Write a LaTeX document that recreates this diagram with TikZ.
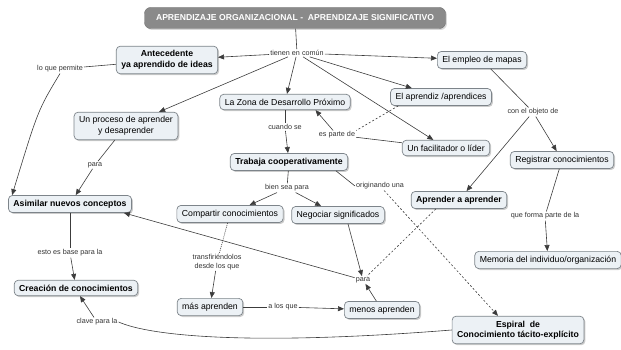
\documentclass[tikz,border=0pt]{standalone}
\usepackage{fontspec}
\setmainfont{Liberation Sans}
\usetikzlibrary{arrows.meta,shadows,calc}
\definecolor{kasten}{RGB}{236,241,245}
\definecolor{rahmen}{RGB}{125,132,138}
\definecolor{titelgrau}{RGB}{138,138,138}
\definecolor{strichgrau}{RGB}{60,60,60}

\begin{document}
\begin{tikzpicture}[x=1pt,y=-1pt,
    konzept/.style={draw=rahmen, fill=kasten, rounded corners=4pt, line width=0.7pt, inner xsep=5pt, inner ysep=4.5pt, align=center, font=\fontsize{8.7}{10.5}\selectfont, drop shadow={shadow xshift=1.4pt, shadow yshift=-1.4pt, fill=black!40}},
    fett/.style={konzept, font=\fontsize{8.7}{10.5}\selectfont\bfseries},
    titel/.style={draw=titelgrau!80!black, fill=titelgrau, text=white, rounded corners=6pt, minimum width=301pt, minimum height=21pt, font=\fontsize{8.6}{10}\selectfont\bfseries, drop shadow={shadow xshift=1.4pt, shadow yshift=-1.4pt, fill=black!30}},
    satz/.style={font=\fontsize{7.2}{8.6}\selectfont, fill=white, inner sep=1pt, align=center, text=black!80},
    linie/.style={draw=strichgrau, line width=0.6pt},
    pfeil/.style={linie, -{Triangle[length=6pt,width=5pt]}},
    strich/.style={linie, dash pattern=on 2pt off 2pt},
  ]
    \useasboundingbox (0,0) rectangle (621,350);

    % Begriffe
    \node[titel] (titel) at (295,18) {APRENDIZAJE ORGANIZACIONAL - \ APRENDIZAJE SIGNIFICATIVO};
    \node[fett] (antec) at (167,60) {Antecedente\\ya aprendido de ideas};
    \node[konzept] (empleo) at (482,60) {El empleo de mapas};
    \node[konzept] (aprendiz) at (441,97) {El aprendiz /aprendices};
    \node[konzept] (zona) at (285,102) {La Zona de Desarrollo Pr\'oximo};
    \node[konzept] (proceso) at (126,126) {Un proceso de aprender\\y desaprender};
    \node[konzept] (facil) at (446,148) {Un facilitador o l\'ider};
    \node[konzept] (registrar) at (562,160) {Registrar conocimientos};
    \node[fett] (trabaja) at (289,162) {Trabaja cooperativamente};
    \node[fett] (asimilar) at (70,204) {Asimilar nuevos conceptos};
    \node[fett] (aprender) at (459,200) {Aprender a aprender};
    \node[konzept] (compartir) at (230,214) {Compartir conocimientos};
    \node[konzept] (negociar) at (338,215) {Negociar significados};
    \node[konzept] (memoria) at (548,260) {Memoria del individuo/organizaci\'on};
    \node[fett] (creacion) at (76,288) {Creaci\'on de conocimientos};
    \node[konzept] (mas) at (210,307) {m\'as aprenden};
    \node[konzept] (menos) at (382,310) {menos aprenden};
    \node[fett] (espiral) at (518,330) {Espiral \ de\\Conocimiento t\'acito-expl\'icito};

    % Verbindungswoerter
    \node[satz] (tienen) at (297,53) {tienen en com\'un};
    \node[satz] (permite) at (60,69) {lo que permite};
    \node[satz] (cuando) at (285,127) {cuando se};
    \node[satz] (parte) at (337,135) {es parte de};
    \node[satz] (objeto) at (533,112) {con el objeto de};
    \node[satz] (para1) at (95,165) {para};
    \node[satz] (bien) at (287,188) {bien sea para};
    \node[satz] (orig) at (380,186) {originando una};
    \node[satz] (forma) at (545,216) {que forma parte de la};
    \node[satz] (base) at (70,253) {esto es base para la};
    \node[satz] (transf) at (217,262) {transfiri\'endolos\\desde los que};
    \node[satz] (para2) at (363,280) {para};
    \node[satz] (alos) at (283,307) {a los que};
    \node[satz] (clave) at (97,322) {clave para la};

    \draw[linie] (titel) -- (tienen);
    \draw[pfeil] (tienen) -- (antec);
    \draw[pfeil] (tienen) -- (proceso);
    \draw[pfeil] (tienen) -- (zona);
    \draw[pfeil] (tienen) -- (empleo);
    \draw[pfeil] (tienen) -- (aprendiz);
    \draw[pfeil] (tienen) -- (facil);

    \draw[linie] (antec) -- (permite);
    \draw[pfeil] (permite.south) .. controls (38,110) .. ($(asimilar.north west)+(4,0)$);
    \draw[linie] (proceso) -- (para1);
    \draw[pfeil] (para1) -- (asimilar);

    \draw[linie] (zona) -- (cuando);
    \draw[pfeil] (cuando) -- (trabaja);
    \draw[linie] (facil) -- (parte);
    \draw[pfeil] (parte) -- ($(zona.south east)+(-35,0)$);
    \draw[strich] ($(aprendiz.south west)+(8,0)$) -- (parte.north east);

    \draw[linie] (empleo) -- (objeto);
    \draw[pfeil] (objeto) -- (registrar);
    \draw[pfeil] (objeto) -- (aprender);
    \draw[linie] (registrar) -- (forma);
    \draw[pfeil] (forma) -- (memoria);

    \draw[linie] (trabaja) -- (bien);
    \draw[pfeil] (bien) -- (compartir);
    \draw[pfeil] (bien) -- (negociar);
    \draw[linie] ($(trabaja.south east)+(-12,0)$) -- (orig.west);
    \draw[strich, -{Triangle[length=6pt,width=5pt]}] (orig) -- ($(espiral.north)+(-20,0)$);

    \draw[linie, dash pattern=on 1pt off 1pt] (compartir) -- (transf);
    \draw[pfeil] (transf) -- (mas);
    \draw[linie] (mas) -- (alos);
    \draw[pfeil] (alos) -- (menos);
    \draw[pfeil] (menos) -- (para2);
    \draw[pfeil] ($(negociar.south)+(10,0)$) -- (para2);
    \draw[strich] ($(aprender.south west)+(25,0)$) -- (para2);
    \draw[pfeil] (para2) -- ($(asimilar.south east)+(-8,0)$);

    \draw[linie] (asimilar) -- (base);
    \draw[pfeil] (base) -- (creacion);
    \draw[linie] (espiral.west) .. controls (250,346) and (150,336) .. (clave.east);
    \draw[pfeil] (clave) -- ($(creacion.south)+(4,0)$);

\end{tikzpicture}
\end{document}
